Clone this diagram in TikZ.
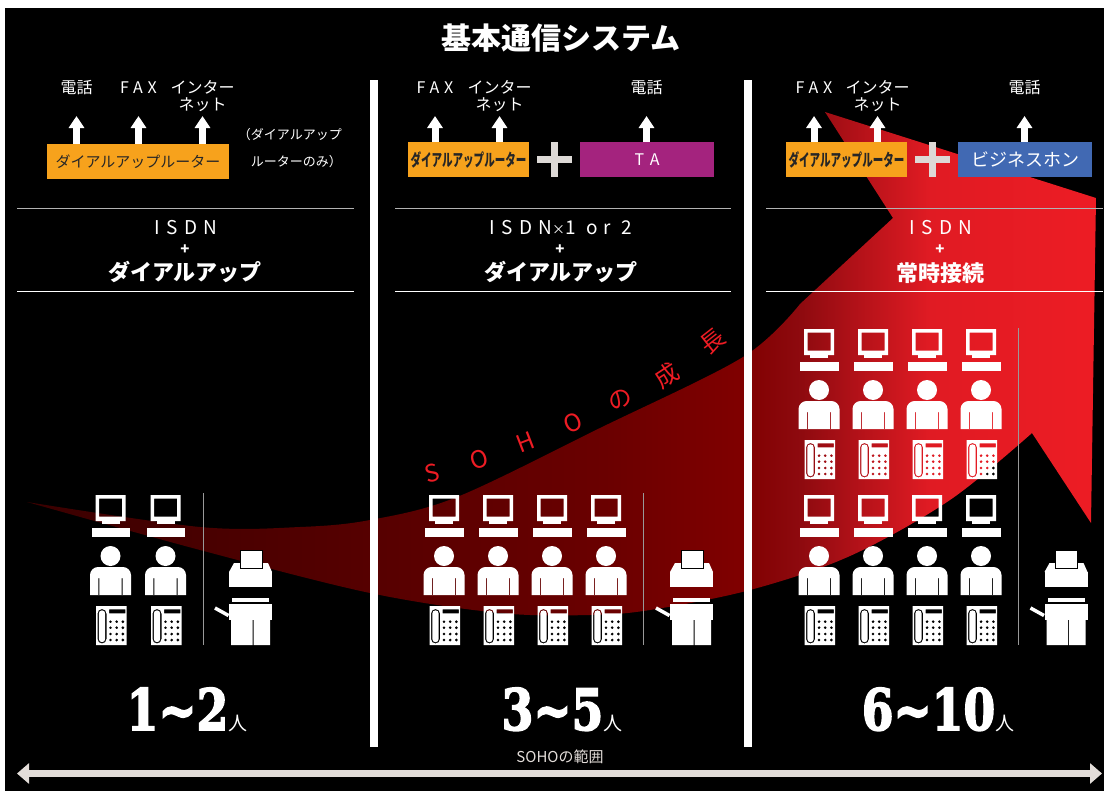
\documentclass[tikz,border=0pt]{standalone}
\usepackage{fontspec}
\usepackage{graphicx}
\setmainfont{Noto Sans CJK JP}
\newfontfamily\numfont{DejaVu Serif}[UprightFont=* Bold, UprightFeatures={FakeBold=3}]
\usetikzlibrary{arrows.meta}

\definecolor{routerorange}{HTML}{F7A21C}
\definecolor{tapurple}{HTML}{A4237E}
\definecolor{phoneblue}{HTML}{4169B3}
\definecolor{plusgray}{HTML}{DDD9D6}
\definecolor{rangegray}{HTML}{E3DDD9}
\definecolor{growthred}{HTML}{ED1C24}
\definecolor{g0}{HTML}{3A0000}
\definecolor{g1}{HTML}{560000}
\definecolor{g2}{HTML}{6A0000}
\definecolor{g3}{HTML}{800000}
\definecolor{g4}{HTML}{8E0A0F}
\definecolor{g5}{HTML}{B51219}
\definecolor{g6}{HTML}{E01B23}
\definecolor{g7}{HTML}{ED1C24}
\pgfdeclarehorizontalshading{growth}{100bp}{color(0bp)=(g0); color(25bp)=(g0);
  color(41bp)=(g1); color(52bp)=(g2); color(58.5bp)=(g3); color(61.2bp)=(g4);
  color(64bp)=(g5); color(67.2bp)=(g6); color(75bp)=(g7); color(100bp)=(g7)}

\tikzset{
  title/.style={text=white, inner sep=0pt, font=\fontsize{30}{32}\selectfont\bfseries},
  lbl/.style={text=white, inner sep=0pt, align=center, font=\fontsize{16}{17.5}\selectfont},
  latin/.style={lbl, font=\fontsize{16}{17.5}\selectfont\addfontfeature{LetterSpace=30}},
  uparr/.style={white, line width=7pt, -{Triangle[width=15pt,length=12pt]}},
  box/.style={minimum height=35pt, inner sep=0pt},
  router/.style={box, fill=routerorange, text=black!85},
  plusbar/.style={plusgray, line width=6.5pt},
  isdn/.style={text=white, inner sep=0pt, font=\fontsize{19}{20}\selectfont\addfontfeature{LetterSpace=33}},
  plus/.style={text=white, inner sep=0pt, font=\fontsize{15}{16}\selectfont\bfseries},
  mode/.style={text=white, inner sep=0pt, font=\fontsize{22}{24}\selectfont\bfseries},
  toprule/.style={gray!60!white, line width=1pt},
  botrule/.style={white, line width=0.8pt},
  colsep/.style={white, line width=7.5pt},
  divider/.style={gray!80!white, line width=1pt},
  growthtxt/.style={text=growthred, inner sep=0pt, font=\fontsize{24}{26}\selectfont},
  count/.style={text=white, inner sep=0pt, anchor=base},
  rangearr/.style={rangegray, line width=7pt,
    {Triangle[width=20pt,length=12pt]}-{Triangle[width=20pt,length=12pt]}},
  pics/staff/.style={code={
    % monitor and keyboard
    \fill[white, even odd rule] (-15,0) rectangle (15,26) (-11.5,3.5) rectangle (11.5,21.5);
    \fill[white] (-9,26) rectangle (9,29);
    \fill[white] (-19,33) rectangle (19.5,42);
    % person
    \fill[white] (0,61) circle (10);
    \fill[white, even odd rule] (-20.5,100) -- (-20.5,80)
      .. controls (-20.5,75.5) and (-16.5,72) .. (-12.5,72) -- (12.5,72)
      .. controls (16.5,72) and (20.5,75.5) .. (20.5,80) -- (20.5,100) -- cycle
      (-12.2,83) rectangle (-11.2,100) (11.2,83) rectangle (12.2,100);
    % telephone
    \fill[white, even odd rule] (-14.5,111) rectangle (16,150)
      [rounded corners=4.5pt] (-13,114) rectangle (-4,148.5)
      [rounded corners=3.2pt] (-11.7,115.3) rectangle (-5.3,147.2)
      [sharp corners] (-1.5,114.3) rectangle (14.8,118.3)
      (0,126.7) circle (1.7) (6.2,126.7) circle (1.7) (12.4,126.7) circle (1.7)
      (0,132.7) circle (1.7) (6.2,132.7) circle (1.7) (12.4,132.7) circle (1.7)
      (0,139) circle (1.7) (6.2,139) circle (1.7) (12.4,139) circle (1.7)
      (0,145) circle (1.7) (6.2,145) circle (1.7) (12.4,145) circle (1.7);
  }},
  pics/fax/.style={code={
    \fill[white] (-21.5,77) -- (-16.5,68) -- (17.5,68) -- (21.5,77) -- cycle;
    \fill[white, draw=black, line width=0.8pt] (-10.5,55) rectangle (11.5,73);
    \fill[white] (-21.5,77) rectangle (21.5,92);
    \fill[white] (-18.5,103) rectangle (18.5,107);
    \fill[white] (-21.5,108.5) rectangle (21.5,125);
    \fill[white] (-19.5,125) rectangle (2,150) (3,125) rectangle (19.5,150);
    \draw[white, line width=3.5pt] (-35.5,113) -- (-22,120.5);
  }}
}

\begin{document}
\begin{tikzpicture}[x=1pt,y=-1pt]
\useasboundingbox (0,0) rectangle (1109,795);
\fill[white] (0,0) rectangle (1109,795);
\fill[black] (5,8) rectangle (1104,791);

% the growth arrow
\shade[shading=growth]
  plot[smooth, tension=0.55] coordinates {(27,502) (200,527) (300,527) (370,520)
    (457,497) (600,428) (743,357) (800,304)}
  -- (893,218) -- (825,112) -- (1096,198) -- (1091,523) -- (1032,433)
  -- plot[smooth, tension=0.55] coordinates {(1032,433) (950,500) (850,556)
    (750,590) (650,610) (590,615) (500,613) (370,593) (200,550) (27,502)}
  -- cycle;

\node[title] (title) at (561,38) {基本通信システム};

\draw[colsep] (374,80) -- (374,747);
\draw[colsep] (748,80) -- (748,747);

\coordinate (tip) at (0,116);

% 1~2
\node[lbl] (telA) at (76.5,87.5) {電話};
\node[latin] (faxA) at (138.5,87.5) {FAX};
\node[lbl] (netA) at (202.5,96) {インター\\ネット};
\node[router, minimum width=182pt, font=\fontsize{15}{16}\selectfont] (rtA) at (138,161.5) {ダイアルアップルーター};
\foreach \n in {telA,faxA,netA}
  \draw[uparr] (rtA.north -| \n) -- (tip -| \n);
\node[lbl, anchor=east, align=right, font=\fontsize{13}{27}\selectfont] (noteA) at (342,148.5) {（ダイアルアップ\\ルーターのみ）};
\draw[toprule] (17,208) -- (354,208);
\node[isdn] (isdnA) at (186,228) {ISDN};
\node[plus] (plusA) at (185,249.5) {+};
\node[mode] (modeA) at (185,272) {ダイアルアップ};
\draw[botrule] (17,291) -- (354,291);
\foreach \x in {110.5,165.5}
  \pic at (\x,495) {staff};
\draw[divider] (203,493) -- (203,645);
\pic at (250.5,495) {fax};
\node[count] (numA) at (187,730) {\scalebox{0.8}[1]{\numfont\fontsize{57}{60}\selectfont 1\char"007E 2}{\fontsize{19}{20}\selectfont 人}};

% 3~5
\node[latin] (faxB) at (435,87.5) {FAX};
\node[lbl] (netB) at (499.5,96) {インター\\ネット};
\node[lbl] (telB) at (646.5,87.5) {電話};
\node[router, minimum width=121pt] (rtB) at (468.5,159.5) {\scalebox{0.62}[1]{\fontsize{17}{18}\selectfont\bfseries ダイアルアップルーター}};
\draw[plusbar] (537,159.5) -- (572,159.5) (554.5,142) -- (554.5,177);
\node[box, fill=tapurple, minimum width=134pt, text=white, font=\fontsize{16}{17}\selectfont\addfontfeature{LetterSpace=40}] (ta) at (647,159.5) {TA};
\foreach \n/\b in {faxB/rtB,netB/rtB,telB/ta}
  \draw[uparr] (\b.north -| \n) -- (tip -| \n);
\draw[toprule] (395,208) -- (731,208);
\node[isdn] (isdnB) at (561,228) {ISDN{\fontsize{13}{14}\selectfont ×}1 or 2};
\node[plus] (plusB) at (560,249.5) {+};
\node[mode] (modeB) at (561,272) {ダイアルアップ};
\draw[botrule] (395,291) -- (731,291);
\foreach \x in {444,498,552,606}
  \pic at (\x,495) {staff};
\draw[divider] (643,493) -- (643,645);
\pic at (691.5,495) {fax};
\node[count] (numB) at (562,730) {\scalebox{0.8}[1]{\numfont\fontsize{57}{60}\selectfont 3\char"007E 5}{\fontsize{19}{20}\selectfont 人}};

% 6~10
\node[latin] (faxC) at (814,87.5) {FAX};
\node[lbl] (netC) at (877.5,96) {インター\\ネット};
\node[lbl] (telC) at (1024.5,87.5) {電話};
\node[router, minimum width=121pt] (rtC) at (846.5,159.5) {\scalebox{0.62}[1]{\fontsize{17}{18}\selectfont\bfseries ダイアルアップルーター}};
\draw[plusbar] (915,159.5) -- (950,159.5) (932.5,142) -- (932.5,177);
\node[box, fill=phoneblue, minimum width=134pt, text=white, font=\fontsize{18}{19}\selectfont] (biz) at (1025,159.5) {ビジネスホン};
\foreach \n/\b in {faxC/rtC,netC/rtC,telC/biz}
  \draw[uparr] (\b.north -| \n) -- (tip -| \n);
\draw[toprule] (766,208) -- (1103,208);
\node[isdn] (isdnC) at (941,228) {ISDN};
\node[plus] (plusC) at (940,250) {+};
\node[mode] (modeC) at (940,273) {常時接続};
\draw[botrule] (766,291) -- (1103,291);
\foreach \x in {819,873,927,981} {
  \pic at (\x,329) {staff};
  \pic at (\x,495) {staff};
}
\draw[divider] (1018,328) -- (1018,645);
\pic at (1066,495) {fax};
\node[count] (numC) at (938,730) {\scalebox{0.8}[1]{\numfont\fontsize{57}{60}\selectfont 6\char"007E 10}{\fontsize{19}{20}\selectfont 人}};

% SOHOの成長
\foreach \ch/\x/\y/\a [count=\i] in {S/432/473/15, O/479/459/18, H/525/442/21,
    O/573/423/24, の/620/400/28, 成/667/375/33, 長/713/341/38}
  \node[growthtxt, rotate=\a] (soho\i) at (\x,\y) {\ch};

% SOHOの範囲
\node[text=rangegray, inner sep=0pt, font=\fontsize{15}{16}\selectfont] (range) at (560,757) {SOHOの範囲};
\coordinate (rangeL) at (17,773.5);
\coordinate (rangeR) at (1102,773.5);
\draw[rangearr] (rangeL) -- (rangeR);
\end{tikzpicture}
\end{document}
